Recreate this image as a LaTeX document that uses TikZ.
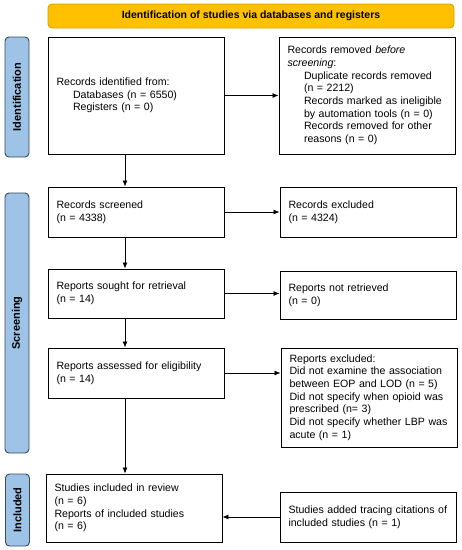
\documentclass[tikz,border=0pt]{standalone}
\usepackage{fontspec}
\setmainfont{Liberation Sans}
\usetikzlibrary{arrows.meta}
\definecolor{hdrfill}{HTML}{FFC000}
\definecolor{hdrline}{HTML}{D9A300}
\definecolor{sidefill}{HTML}{9DC3E6}
\definecolor{sideline}{HTML}{3A4A5C}
\newcommand{\ind}{\hspace*{16.5pt}}
\begin{document}
\begin{tikzpicture}[x=1pt,y=-1pt,
  every node/.style={font=\fontsize{10.6}{12.7}\selectfont},
  flowbox/.style={draw,line width=0.9pt,rectangle,align=left,inner xsep=8.5pt,inner ysep=0pt,
    text width=159pt,minimum width=176pt},
  sidebox/.style={draw=sideline,fill=sidefill,line width=0.9pt,rounded corners=4pt,rotate=90,
    minimum height=24pt,inner sep=0pt,font=\fontsize{11}{12.7}\selectfont\bfseries},
  arr/.style={line width=0.8pt,-{Latex[length=6pt,width=5pt]}}]
\useasboundingbox (0,0) rectangle (462,550);
\node[draw=hdrline,fill=hdrfill,line width=0.9pt,rounded corners=4pt,minimum width=406pt,minimum height=24pt,
  inner sep=0pt,font=\fontsize{10.5}{12}\selectfont\bfseries] (hdr) at (251,16)
  {Identification of studies via databases and registers};
\node[sidebox,minimum width=120pt] (labid) at (17,97) {Identification};
\node[sidebox,minimum width=260pt] (labscr) at (17,323) {Screening};
\node[sidebox,minimum width=72pt] (labinc) at (17.5,510) {Included};
\node[flowbox,minimum height=117pt] (ident) at (136,95.5)
  {Records identified from:\\\ind Databases (n = 6550)\\\ind Registers (n = 0)};
\node[flowbox,minimum height=117pt] (removed) at (367,95.5)
  {Records removed \textit{before}\\\textit{screening}:\\\ind Duplicate records removed\\\ind (n = 2212)\\
   \ind Records marked as ineligible\\\ind by automation tools (n = 0)\\\ind Records removed for other\\\ind reasons (n = 0)};
\node[flowbox,minimum height=50pt] (screened) at (136,212) {Records screened\\(n = 4338)};
\node[flowbox,minimum height=50pt] (excluded) at (368,212) {Records excluded\\(n = 4324)};
\node[flowbox,minimum height=49pt] (sought) at (136,293.5) {Reports sought for retrieval\\(n = 14)};
\node[flowbox,minimum height=48pt] (notret) at (368,295) {Reports not retrieved\\(n = 0)};
\node[flowbox,minimum height=50pt] (assessed) at (136,373) {Reports assessed for eligibility\\(n = 14)};
\node[flowbox,minimum height=99pt] (repexcl) at (369,397.5)
  {Reports excluded:\\Did not examine the association\\between EOP and LOD (n = 5)\\Did not specify when opioid was\\
   prescribed (n= 3)\\Did not specify whether LBP was\\acute (n = 1)};
\node[flowbox,minimum height=68pt] (incl) at (134,508)
  {Studies included in review\\(n = 6)\\Reports of included studies\\(n = 6)};
\node[flowbox,minimum height=50pt] (added) at (368,517)
  {Studies added tracing citations of\\included studies (n = 1)};
\draw[arr] (ident.east) -- (removed.west);
\draw[arr] ([xshift=-11pt]ident.south) -- ([xshift=-11pt]screened.north);
\draw[arr] (screened.east) -- (excluded.west);
\draw[arr] ([xshift=-11pt]screened.south) -- ([xshift=-11pt]sought.north);
\draw[arr] (sought.east) -- (sought.east -| notret.west);
\draw[arr] ([xshift=-11pt]sought.south) -- ([xshift=-11pt]assessed.north);
\draw[arr] (assessed.east) -- (assessed.east -| repexcl.west);
\draw[arr] ([xshift=-11pt]assessed.south) -- ([xshift=-9pt]incl.north);
\draw[arr] (added.west) -- (added.west -| incl.east);
\end{tikzpicture}
\end{document}
